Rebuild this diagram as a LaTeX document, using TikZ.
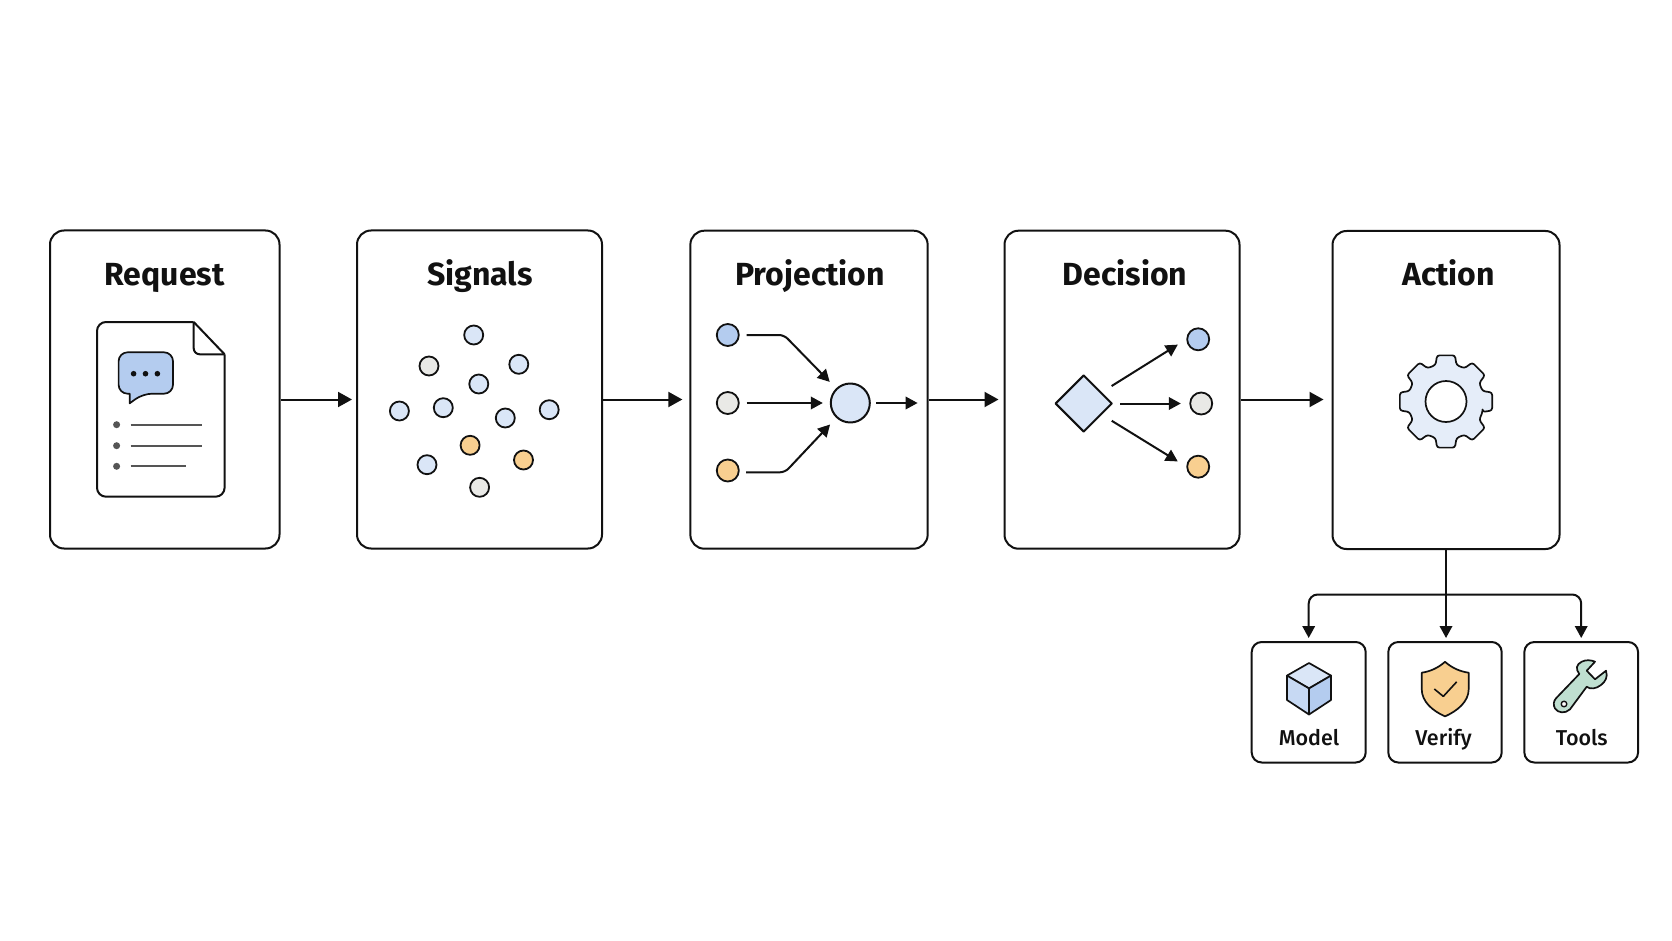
\documentclass[tikz,border=0pt]{standalone}
\usepackage{fontspec}
\setmainfont{Fira Sans}
\newfontfamily\midfont{Fira Sans Medium}
\usetikzlibrary{arrows.meta,shapes.geometric}
\definecolor{ink}{HTML}{111111}
\definecolor{greyink}{HTML}{555555}
\definecolor{bluedeep}{HTML}{B4CCEF}
\definecolor{bluepale}{HTML}{DAE6F7}
\definecolor{greypale}{HTML}{E9E9E6}
\definecolor{orangepale}{HTML}{F8CF90}
\definecolor{greenpale}{HTML}{BFDFD0}

\begin{document}
\begin{tikzpicture}[x=1pt,y=-1pt,line join=round,
    panel/.style={draw=ink,line width=2pt,rounded corners=14pt,inner sep=0pt,minimum height=318pt},
    minipanel/.style={draw=ink,line width=2pt,rounded corners=10pt,inner sep=0pt,minimum height=120.5pt},
    heading/.style={anchor=base,text=ink,font={\fontsize{32}{32}\selectfont\bfseries}},
    caption/.style={anchor=base,text=ink,font={\fontsize{21.5}{22}\midfont}},
    dot/.style={circle,draw=ink,line width=1.8pt,inner sep=0pt,minimum size=19pt},
    bigdot/.style={dot,minimum size=22pt},
    flow/.style={-{Triangle[length=14pt,width=15pt]},line width=2pt,draw=ink},
    inner/.style={-{Triangle[length=12pt,width=12.5pt]},line width=2pt,draw=ink},
    glyph/.style={draw=ink,line width=1.7pt}]
\useasboundingbox (0,0) rectangle (1672,941);

\node[panel,minimum width=229.5pt] (request) at (164.75,389.5) {};
\node[panel,minimum width=245pt] (signals) at (479.5,389.5) {};
\node[panel,minimum width=237.3pt] (projection) at (809,389.7) {};
\node[panel,minimum width=235pt] (decision) at (1122,389.7) {};
\node[panel,minimum width=227pt] (action) at (1446,390) {};

\node[heading] (t1) at (164.5,285) {Request};
\node[heading] (t2) at (480,285) {Signals};
\node[heading] (t3) at (810,285) {Projection};
\node[heading] (t4) at (1125,285) {Decision};
\node[heading] (t5) at (1448.5,285) {Action};

\coordinate (rail) at (0,399.5);
\draw[flow,shorten >=4pt] (request.east |- rail) -- (signals.west |- rail);
\draw[flow,shorten >=7pt] (signals.east |- rail) -- (projection.west |- rail);
\draw[flow,shorten >=5pt] (projection.east |- rail) -- (decision.west |- rail);
\draw[flow,shorten >=8pt] (decision.east |- rail) -- (action.west |- rail);

% request sheet
\draw[glyph,line width=2pt,rounded corners=9pt,fill=white] (193.7,322) -- (97,322) -- (97,496.7) -- (224.6,496.7) -- (224.6,354.3);
\draw[glyph,line width=2pt,line join=miter] (193.7,322) -- (224.6,354.3);
\draw[glyph,line width=2pt,rounded corners=6pt] (193.7,322) -- (193.7,354.3) -- (224.6,354.3);
\draw[glyph,fill=bluedeep,rounded corners=9pt] (129.7,393.7) -- (118.6,393.7) -- (118.6,352.3) -- (173,352.3) -- (173,393.7) -- (143,393.7)
    [sharp corners] -- (129.7,403.3) -- cycle;
\foreach \x in {133.6,145.5,157.4}
    \fill[ink] (\x,373.7) circle(2.8);
\foreach \y/\e in {424.7/201.7,445.7/201.7,466.3/185.8} {
    \fill[greyink] (116.6,\y) circle(3.5);
    \draw[greyink,line width=1.7pt] (130.5,\y) -- (\e,\y);
}

% signals
\foreach \x/\y/\c [count=\i] in {473.7/335/bluepale,429/366/greypale,518.8/364.3/bluepale,
    478.8/384/bluepale,399.4/411/bluepale,443.3/407.7/bluepale,505.3/418/bluepale,
    549.2/409.7/bluepale,470.1/445.3/orangepale,523.5/460/orangepale,
    427/464.7/bluepale,479.6/487.3/greypale}
    \node[dot,fill=\c] (s\i) at (\x,\y) {};

% projection
\node[bigdot,fill=bluedeep] (pa) at (727.8,335) {};
\node[bigdot,fill=greypale] (pb) at (727.8,403) {};
\node[bigdot,fill=orangepale] (pc) at (727.8,470.5) {};
\node[circle,draw=ink,line width=2pt,fill=bluepale,inner sep=0pt,minimum size=39pt] (hub) at (850.3,403) {};
\coordinate (pa-bend) at (784,335);
\coordinate (pc-bend) at (785,472.3);
\coordinate (pc-out) at (739,472.3);
\coordinate (hub-out) at (917.6,403);
\draw[inner,rounded corners=5pt,shorten <=7pt,shorten >=9pt] (pa.east) -- (pa-bend) -- (hub);
\draw[inner,shorten <=7pt,shorten >=7pt] (pb.east) -- (hub.west);
\draw[inner,rounded corners=5pt,shorten <=7pt,shorten >=9pt] (pc-out) -- (pc-bend) -- (hub);
\draw[inner,shorten <=5.5pt] (hub.east) -- (hub-out);

% decision
\node[diamond,draw=ink,line width=2pt,fill=bluepale,inner sep=0pt,minimum width=57pt,minimum height=57pt] (choice) at (1083.7,403.5) {};
\node[bigdot,fill=bluedeep] (up) at (1198.2,339.3) {};
\node[bigdot,fill=greypale] (mid) at (1201.2,403.5) {};
\node[bigdot,fill=orangepale] (low) at (1198.2,466.7) {};
\draw[inner,shorten <=11.5pt,shorten >=10pt] (choice) -- (up.west);
\draw[inner,shorten <=7pt,shorten >=8.5pt] (choice.east) -- (mid.west);
\draw[inner,shorten <=11.5pt,shorten >=10pt] (choice) -- (low.west);

% gear
\begin{scope}[shift={(1446,401.5)}]
\draw[glyph,fill=bluepale!70!white,rounded corners=2.5pt] (-16:38pt)
    \foreach \a in {0,45,...,315} { -- (\a-16:38pt) -- (\a-11:47pt) -- (\a+11:47pt) -- (\a+16:38pt) } -- cycle;
\draw[glyph,fill=white] (0,0) circle(20.5);
\end{scope}

\node[minipanel,minimum width=114pt] (model) at (1308.7,702.25) {};
\node[minipanel,minimum width=113.4pt] (verify) at (1445,702.25) {};
\node[minipanel,minimum width=113.7pt] (tools) at (1581.2,702.25) {};
\node[caption] (c1) at (1309,745.5) {Model};
\node[caption] (c2) at (1443.5,745.5) {Verify};
\node[caption] (c3) at (1581.7,745.5) {Tools};

\coordinate (bus) at (0,594.5);
\draw[inner,shorten >=3pt] (action.south) -- (action.south |- verify.north);
\draw[inner,rounded corners=9pt,shorten >=3pt] (action.south |- bus) -| (model.north);
\draw[inner,rounded corners=9pt,shorten >=3pt] (action.south |- bus) -| (tools.north);

% cube
\draw[glyph,fill=bluepale] (1309,663) -- (1331,675.6) -- (1309,688.4) -- (1287,675.6) -- cycle;
\draw[glyph,fill=bluedeep!75!white] (1287,675.6) -- (1309,688.4) -- (1309,714.5) -- (1287,700) -- cycle;
\draw[glyph,fill=bluedeep] (1331,675.6) -- (1309,688.4) -- (1309,714.5) -- (1331,700) -- cycle;

% shield
\draw[glyph,fill=orangepale] (1445,661.8) .. controls (1452,668) and (1460,671.5) .. (1468.7,672.7)
    -- (1468.7,689) .. controls (1468.7,702) and (1457,711) .. (1445,716.4)
    .. controls (1433,711) and (1421.7,702) .. (1421.7,689) -- (1421.7,672.7)
    .. controls (1430,671.5) and (1438,668) .. cycle;
\draw[ink,line width=1.6pt] (1434.3,689) -- (1443.3,696.4) -- (1456.7,681.8);

% wrench
\draw[glyph,fill=greenpale] (1556,698.3) -- (1579.3,674) .. controls (1575.5,669) and (1576,664.5) .. (1581.7,661.7)
    .. controls (1586,659.5) and (1591,660) .. (1595,661.7) -- (1586.7,670.7) -- (1595,679.3) -- (1606,670.7)
    .. controls (1608,677) and (1605.5,681.5) .. (1601,685) .. controls (1596,689) and (1590,689.5) .. (1586.7,686.7)
    -- (1570,709.3) .. controls (1565,714) and (1558,713) .. (1555,708.5) .. controls (1553,705) and (1553.5,701) .. cycle;
\draw[glyph,line width=1.4pt,fill=white] (1564,704) circle(2.8);
\end{tikzpicture}
\end{document}
